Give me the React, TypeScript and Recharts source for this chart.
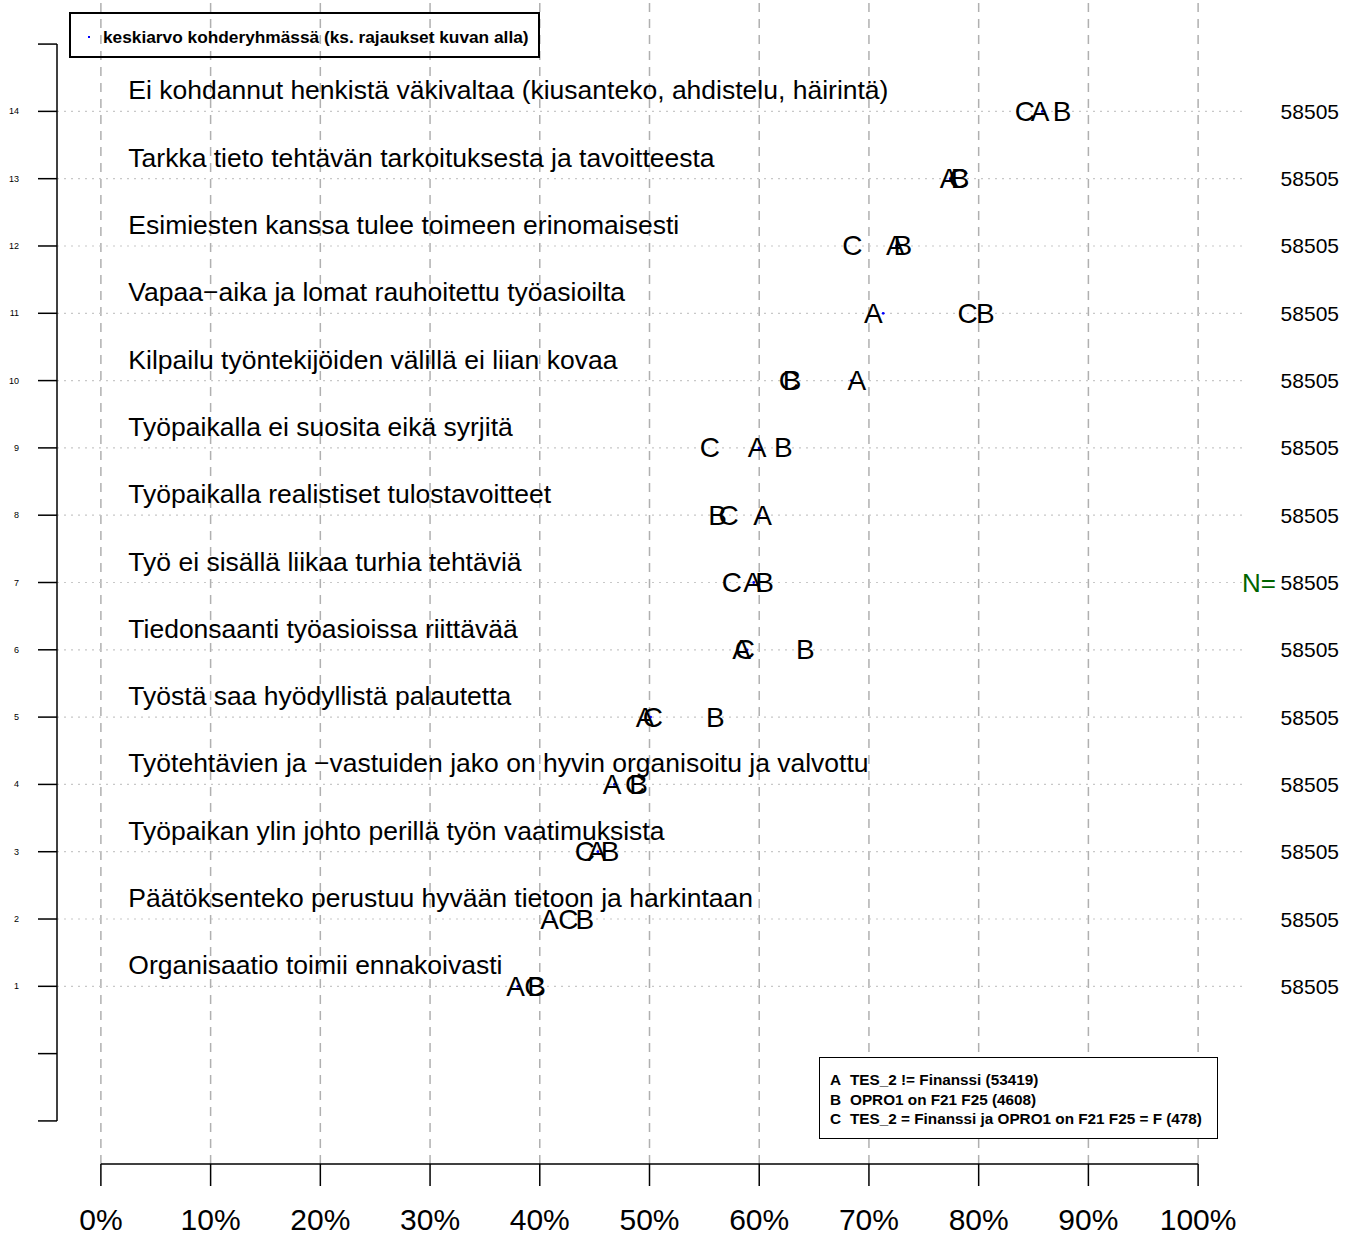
import React from 'react';
import { ScatterChart, Scatter, XAxis, YAxis, ReferenceLine } from 'recharts';

// rows from top (14) to bottom (1)
const rows = [14, 13, 12, 11, 10, 9, 8, 7, 6, 5, 4, 3, 2, 1];

const labels = [
  'Ei kohdannut henkistä väkivaltaa (kiusanteko, ahdistelu, häirintä)',
  'Tarkka tieto tehtävän tarkoituksesta ja tavoitteesta',
  'Esimiesten kanssa tulee toimeen erinomaisesti',
  'Vapaa\u2212aika ja lomat rauhoitettu työasioilta',
  'Kilpailu työntekijöiden välillä ei liian kovaa',
  'Työpaikalla ei suosita eikä syrjitä',
  'Työpaikalla realistiset tulostavoitteet',
  'Työ ei sisällä liikaa turhia tehtäviä',
  'Tiedonsaanti työasioissa riittävää',
  'Työstä saa hyödyllistä palautetta',
  'Työtehtävien ja \u2212vastuiden jako on hyvin organisoitu ja valvottu',
  'Työpaikan ylin johto perillä työn vaatimuksista',
  'Päätöksenteko perustuu hyvään tietoon ja harkintaan',
  'Organisaatio toimii ennakoivasti',
];

// % values
const groupA = [85.6, 77.3, 72.4, 70.4, 68.9, 59.8, 60.3, 59.4, 58.4, 49.6, 46.6, 45.2, 40.9, 37.8];
const groupB = [87.6, 78.3, 73.1, 80.6, 63.0, 62.2, 56.2, 60.5, 64.2, 56.0, 49.0, 46.4, 44.1, 39.7];
const groupC = [84.2, 78.2, 68.5, 79.0, 62.7, 55.5, 57.2, 57.5, 58.7, 50.3, 48.7, 44.1, 42.6, 39.5];
const targetMean = [85.8, 77.4, 72.5, 71.3, 68.4, 60.0, 60.0, 59.5, 58.9, 50.1, 46.8, 45.3, 41.2, 38.0];
const nValues = [58505, 58505, 58505, 58505, 58505, 58505, 58505, 58505, 58505, 58505, 58505, 58505, 58505, 58505];

const legendItems = [
  { key: 'A', text: 'TES_2 != Finanssi (53419)' },
  { key: 'B', text: 'OPRO1 on F21 F25 (4608)' },
  { key: 'C', text: 'TES_2 = Finanssi ja OPRO1 on F21 F25 = F (478)' },
];

const xTicks = [0, 10, 20, 30, 40, 50, 60, 70, 80, 90, 100];
const yTicks = [-1, 0, 1, 2, 3, 4, 5, 6, 7, 8, 9, 10, 11, 12, 13, 14, 15];
const X_DOMAIN: [number, number] = [-4, 104];
const Y_DOMAIN: [number, number] = [-1.64, 15.64];
const LABEL_X = 2.5;
const N_LABEL_ROW = 7;

const toPoints = (vals: number[]) => rows.map((r, i) => ({ x: vals[i], y: r }));

const letterShape = (ch: string) => (props: any) => (
  <text x={props.cx} y={props.cy} textAnchor="middle" dominantBaseline="central" fontSize={28} fill="#000">
    {ch}
  </text>
);

const labelShape = (props: any) => (
  <text x={props.cx} y={props.cy - 12} textAnchor="start" fontSize={26.5} fill="#000">
    {props.payload.label}
  </text>
);

const meanShape = (props: any) => <circle cx={props.cx} cy={props.cy} r={1.4} fill="#0000ff" />;

const LeftTick = (p: any) => {
  const v = p.payload.value;
  if (v < 1 || v > 14) return <g />;
  return (
    <text x={p.x} y={p.y} textAnchor="end" dominantBaseline="central" fontSize={9} fill="#000">
      {v}
    </text>
  );
};

const RightTick = (p: any) => {
  const v = p.payload.value;
  const i = rows.indexOf(v);
  if (i < 0) return <g />;
  return (
    <g>
      <text x={p.x + 97} y={p.y} textAnchor="end" dominantBaseline="central" fontSize={21} fill="#000">
        {nValues[i]}
      </text>
      {v === N_LABEL_ROW && (
        <text x={p.x} y={p.y} textAnchor="start" dominantBaseline="central" fontSize={26} fill="#006400">
          N=
        </text>
      )}
    </g>
  );
};

export default function App() {
  const labelPoints = rows.map((r, i) => ({ x: LABEL_X, y: r, label: labels[i] }));
  return (
    <div
      style={{
        position: 'absolute',
        left: 0,
        top: 0,
        width: 1354,
        height: 1236,
        background: '#fff',
        fontFamily: '"Liberation Sans", Arial, sans-serif',
      }}
    >
      <ScatterChart width={1354} height={1236} margin={{ top: 1, right: 0, bottom: 0, left: 0 }}>
        <XAxis
          type="number"
          dataKey="x"
          domain={X_DOMAIN}
          ticks={xTicks}
          allowDataOverflow
          height={72}
          axisLine={false}
          tickLine={{ stroke: '#000', strokeWidth: 1.5 }}
          tickSize={22}
          tickMargin={23}
          tick={{ fontSize: 30, fill: '#000' }}
          tickFormatter={(v: number) => `${v}%`}
        />
        <YAxis
          yAxisId="left"
          type="number"
          dataKey="y"
          domain={Y_DOMAIN}
          ticks={yTicks}
          allowDataOverflow
          width={57}
          axisLine={false}
          tickLine={{ stroke: '#000', strokeWidth: 1.5 }}
          tickSize={19}
          tickMargin={19}
          tick={<LeftTick />}
        />
        <YAxis
          yAxisId="right"
          orientation="right"
          type="number"
          dataKey="y"
          domain={Y_DOMAIN}
          ticks={rows}
          allowDataOverflow
          width={112}
          axisLine={false}
          tickLine={false}
          tickSize={0}
          tickMargin={0}
          tick={<RightTick />}
        />

        {xTicks.map((v) => (
          <ReferenceLine key={`vx${v}`} yAxisId="left" x={v} stroke="#b0b0b0" strokeWidth={1.5} strokeDasharray="9 7" />
        ))}
        {rows.map((r) => (
          <ReferenceLine key={`hy${r}`} yAxisId="left" y={r} stroke="#c8c8c8" strokeWidth={1.2} strokeDasharray="2 5" />
        ))}
        <ReferenceLine
          yAxisId="left"
          segment={[{ x: xTicks[0], y: Y_DOMAIN[0] }, { x: xTicks[xTicks.length - 1], y: Y_DOMAIN[0] }]}
          stroke="#000"
          strokeWidth={1.5}
        />
        <ReferenceLine
          yAxisId="left"
          segment={[{ x: X_DOMAIN[0], y: yTicks[0] }, { x: X_DOMAIN[0], y: yTicks[yTicks.length - 1] }]}
          stroke="#000"
          strokeWidth={1.5}
        />

        <Scatter yAxisId="left" data={labelPoints} shape={labelShape} isAnimationActive={false} />
        <Scatter yAxisId="left" data={toPoints(targetMean)} shape={meanShape} isAnimationActive={false} />
        <Scatter yAxisId="left" data={toPoints(groupA)} shape={letterShape('A')} isAnimationActive={false} />
        <Scatter yAxisId="left" data={toPoints(groupB)} shape={letterShape('B')} isAnimationActive={false} />
        <Scatter yAxisId="left" data={toPoints(groupC)} shape={letterShape('C')} isAnimationActive={false} />
        <Scatter yAxisId="right" data={toPoints(groupA)} shape={() => <g />} isAnimationActive={false} />
      </ScatterChart>

      <div
        style={{
          position: 'absolute',
          left: 69,
          top: 12,
          width: 471,
          height: 46,
          boxSizing: 'border-box',
          border: '2px solid #000',
          display: 'flex',
          alignItems: 'center',
          paddingTop: 4,
          fontWeight: 'bold',
          fontSize: 17.3,
          color: '#000',
        }}
      >
        <span style={{ width: 2, height: 2, background: '#0000ff', marginLeft: 17, marginRight: 13 }} />
        <span style={{ whiteSpace: 'nowrap' }}>keskiarvo kohderyhmässä (ks. rajaukset kuvan alla)</span>
      </div>

      <div
        style={{
          position: 'absolute',
          left: 819,
          top: 1057,
          width: 399,
          height: 82,
          boxSizing: 'border-box',
          border: '1.5px solid #000',
          background: '#fff',
          padding: '12px 0 0 10px',
          fontWeight: 'bold',
          fontSize: 15.3,
          lineHeight: '19.5px',
          color: '#000',
          whiteSpace: 'nowrap',
        }}
      >
        {legendItems.map((it) => (
          <div key={it.key} style={{ display: 'flex' }}>
            <span style={{ width: 20 }}>{it.key}</span>
            <span>{it.text}</span>
          </div>
        ))}
      </div>
    </div>
  );
}
